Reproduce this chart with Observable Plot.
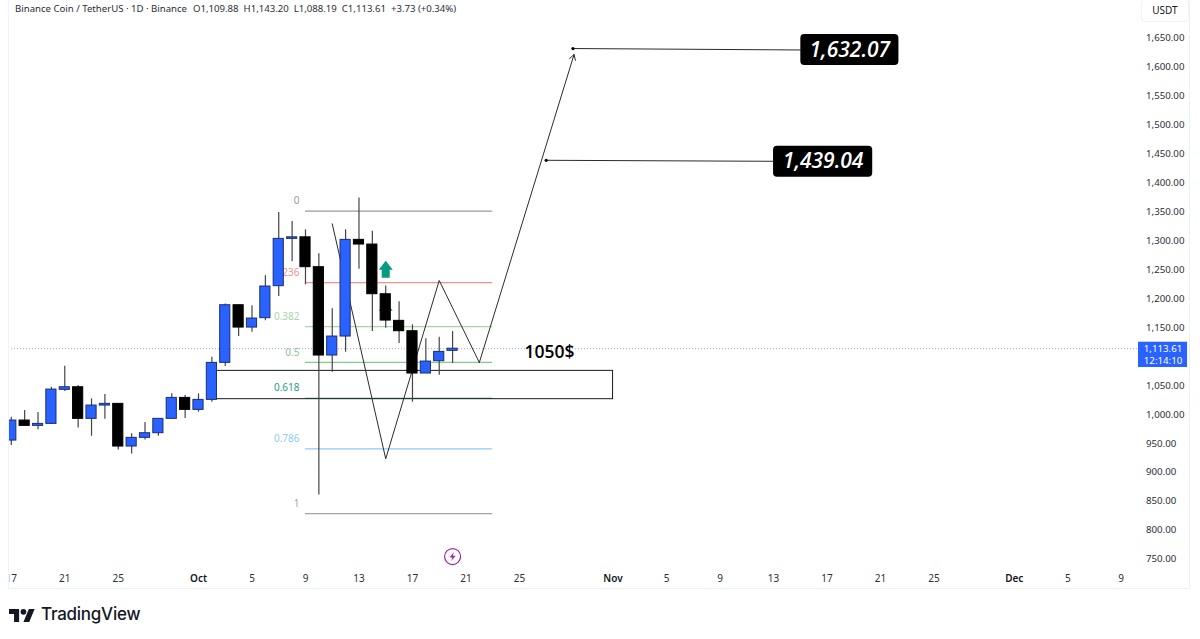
<!DOCTYPE html>
<html>
<head>
<meta charset="utf-8">
<script src="https://cdn.jsdelivr.net/npm/d3@7"></script>
<script src="https://cdn.jsdelivr.net/npm/@observablehq/plot@0.6"></script>
<style>
html,body{margin:0;padding:0;background:#fff;overflow:hidden;width:1200px;height:639px;position:relative;font-family:"Noto Sans",sans-serif;}
#chart svg{display:block;overflow:visible;background:#fff;}
#header{position:absolute;left:15px;top:2px;font:9.6px/14px "Noto Sans",sans-serif;color:#2a2e39;white-space:pre;}
#header b{font-weight:400;margin-left:1px;}
#usdt{position:absolute;left:1141px;top:-1px;width:46px;height:21px;border:1px solid #f0f3fa;border-radius:4px;font:10px/21px "Noto Sans",sans-serif;color:#131722;text-align:center;background:#fff;}
#edge{position:absolute;left:0;top:0;width:8px;height:589px;background:#fff;border-right:1px solid #f0f3fa;}
#frame{position:absolute;left:8px;top:0;width:1182px;height:589px;box-sizing:border-box;border-right:1px solid #eef0f5;border-bottom:1px solid #eef0f5;pointer-events:none;}
#logo{position:absolute;left:9px;top:603px;display:flex;align-items:center;color:#131722;}
#logo span{font:500 17px/22px Inter,sans-serif;margin-left:6px;letter-spacing:-.25px;}
</style>
</head>
<body>
<div id="chart"></div>
<div id="edge"></div>
<div id="frame"></div>
<div id="header">Binance Coin / TetherUS · 1D · Binance<b>  O1,109.88  H1,143.20  L1,088.19  C1,113.61  +3.73 (+0.34%)</b></div>
<div id="usdt">USDT</div>
<div id="logo">
<svg width="26" height="16" viewBox="0 0 36 22"><path fill="#131722" d="M14 22H7V11H0V4h14v18zM28 22h-8l7.5-18h8L28 22z"/><circle fill="#131722" cx="20" cy="8" r="4"/></svg>
<span>TradingView</span>
</div>
<script>
const dates = ["2025-09-17","2025-09-18","2025-09-19","2025-09-20","2025-09-21","2025-09-22","2025-09-23","2025-09-24","2025-09-25","2025-09-26","2025-09-27","2025-09-28","2025-09-29","2025-09-30","2025-10-01","2025-10-02","2025-10-03","2025-10-04","2025-10-05","2025-10-06","2025-10-07","2025-10-08","2025-10-09","2025-10-10","2025-10-11","2025-10-12","2025-10-13","2025-10-14","2025-10-15","2025-10-16","2025-10-17","2025-10-18","2025-10-19","2025-10-20"];
const opens  = [954.9,989.5,980.3,983.7,1042.5,1047,992.4,1015.4,1018.3,944.6,959.6,967.6,992.4,1028.6,1007.9,1025.2,1089.1,1188.7,1150.1,1166.3,1221.6,1303.3,1306,1254.4,1101.8,1134.6,1301.6,1293.5,1207.7,1161.7,1143.8,1070.7,1092,1109.88];
const closes = [989.5,980.3,983.7,1043,1047,992.4,1015.4,1018.3,944.6,959.6,967.6,992.4,1028.6,1007.9,1025.2,1089.1,1188.7,1150.1,1165.7,1221,1303.3,1306,1254.4,1101.8,1134.6,1301.6,1293.5,1207.7,1162.2,1143.8,1070.7,1091.4,1108.1,1113.61];
const highs  = [995.3,1006.8,1003.3,1047,1083.4,1050,1026.9,1034.4,1018.3,966.5,986,992.4,1035.6,1032.7,1035.6,1098.9,1191,1188.7,1187.6,1239.4,1348.8,1333.3,1318.9,1277.4,1182.4,1318.9,1374,1316.6,1222.1,1194.5,1154.8,1130.6,1133.4,1143.2];
const lows   = [946.3,980,973.4,983,1039.6,976.8,962.4,991.8,938.8,931.9,956.1,962.4,992,992.9,1003.9,1021.2,1082.8,1134.6,1142.1,1161.7,1203.7,1263.6,1223.8,861.1,1073,1107.5,1250.9,1143.2,1149,1122.5,1021.2,1070.7,1067.8,1088.19];

const fibLabels = ["0","0.236","0.382","0.5","0.618","0.786","1"];
const fibPrices = [1351.1,1227.9,1151.6,1090,1028,940.7,828.8];
const fibColors = ["#9a9a9a","#f0918c","#a5d6a7","#86c98a","#1f9e88","#90caf9","#a3a3a3"];
const fibStart = "2025-10-09", fibEnd = "2025-10-23";

const pathDates  = ["2025-10-11","2025-10-15","2025-10-19","2025-10-22"];
const pathPrices = [1329.3,923.4,1231.4,1089.7];
const arrowTipDate = "2025-10-29T02:00Z", arrowTipPrice = 1621.8;

const targetLabels = ["1,632.07","1,439.04"];
const targetPrices = [1632.07,1439.04];
const targetDates  = ["2025-10-29","2025-10-27"];
const tagLeft   = ["2025-11-15T01:00Z","2025-11-13T00:00Z"];
const tagRight  = ["2025-11-22T09:00Z","2025-11-20T10:00Z"];
const tagMiddle = ["2025-11-18T17:00Z","2025-11-16T17:00Z"];
const tagTop    = [1656.3,1463.4];
const tagBottom = [1602.8,1409.8];
const tagLinePrices = [1629.6,1437.3];

const zoneStart = "2025-10-02", zoneEnd = "2025-11-01", zoneTop = 1075.3, zoneBottom = 1026.4;
const lastPrice = 1113.61;
const priceTicks = [750,800,850,900,950,1000,1050,1150,1200,1250,1300,1350,1400,1450,1500,1550,1600,1650];
const dayTicks = ["2025-09-17","2025-09-21","2025-09-25","2025-10-05","2025-10-09","2025-10-13","2025-10-17","2025-10-21","2025-10-25","2025-11-05","2025-11-09","2025-11-13","2025-11-17","2025-11-21","2025-11-25","2025-12-05","2025-12-09"];
const monthTicks = ["2025-10-01","2025-11-01","2025-12-01"];
const monthNames = ["Oct","Nov","Dec"];

const d = s => new Date(s);
const DAY = 864e5;
const BODY = 0.38;
const candles = dates.map((t,i)=>({t:d(t),o:opens[i],c:closes[i],h:highs[i],l:lows[i],up:closes[i]>=opens[i]}));
const fibs = fibLabels.map((l,i)=>({l,p:fibPrices[i],c:fibColors[i]}));
const path = pathDates.map((t,i)=>({t:d(t),p:pathPrices[i]}));
const tags = targetLabels.map((l,i)=>({l,p:targetPrices[i],t:d(targetDates[i]),x1:d(tagLeft[i]),x2:d(tagRight[i]),xm:d(tagMiddle[i]),y1:tagTop[i],y2:tagBottom[i],yl:tagLinePrices[i]}));

const upArrow = {draw(c,size){const s=Math.sqrt(size/Math.PI)/8.5;
  c.moveTo(0,-8.5*s);c.lineTo(7*s,0.5*s);c.lineTo(4*s,0.5*s);c.lineTo(4*s,8.5*s);c.lineTo(-4*s,8.5*s);c.lineTo(-4*s,0.5*s);c.lineTo(-7*s,0.5*s);c.closePath();}};
const bolt = {draw(c,size){const s=Math.sqrt(size/Math.PI)/4;
  c.moveTo(1.2*s,-4*s);c.lineTo(-2.8*s,0.8*s);c.lineTo(-0.2*s,0.8*s);c.lineTo(-1.2*s,4*s);c.lineTo(2.8*s,-0.8*s);c.lineTo(0.2*s,-0.8*s);c.closePath();}};

const font = '"Noto Sans",sans-serif';
const chart = Plot.plot({
  width:1200,height:589,marginLeft:8,marginRight:62,marginTop:0,marginBottom:20,
  style:{background:"#fff",fontFamily:font,overflow:"visible"},
  x:{type:"utc",domain:[d("2025-09-16T19:00Z"),d("2025-12-10T07:00Z")]},
  y:{domain:[732.2,1715.05]},
  marks:[
    Plot.axisY({anchor:"right",ticks:priceTicks,tickSize:0,tickPadding:7.5,label:null,fontSize:9.7,color:"#2a2e39",
      tickFormat:v=>d3.format(",.2f")(v)}),
    Plot.axisX({anchor:"bottom",ticks:dayTicks.map(d),tickSize:0,tickPadding:5,label:null,fontSize:10,color:"#2a2e39",
      tickFormat:v=>String(v.getUTCDate())}),
    Plot.axisX({anchor:"bottom",ticks:monthTicks.map(d),tickSize:0,tickPadding:5,label:null,fontSize:10,fontWeight:600,color:"#131722",
      tickFormat:v=>monthNames[monthTicks.findIndex(m=>+d(m)===+v)]}),
    Plot.ruleY([lastPrice],{stroke:"#7d80d8",strokeOpacity:.7,strokeDasharray:"1 2",strokeWidth:1}),
    Plot.ruleY(fibs,{y:"p",x1:d(fibStart),x2:d(fibEnd),stroke:"c",strokeWidth:1.2}),
    Plot.text(fibs,{x:d(fibStart),y:"p",text:"l",fill:"c",fontSize:10,textAnchor:"end",dx:-6,dy:-10,fontWeight:d=>d.l==="0.618"?600:400}),
    Plot.rect([0],{x1:d(zoneStart),x2:d(zoneEnd),y1:zoneBottom,y2:zoneTop,fill:"none",stroke:"#1a1a1a",strokeWidth:1}),
    Plot.line(path,{x:"t",y:"p",stroke:"#2b2b2b",strokeWidth:1}),
    Plot.arrow([0],{x1:d(pathDates[3]),y1:pathPrices[3],x2:d(arrowTipDate),y2:arrowTipPrice,stroke:"#2b2b2b",strokeWidth:1,headLength:9,bend:0,inset:0}),
    Plot.dot([1250.9,1180],{x:d("2025-10-15"),y:p=>p,r:8.5,symbol:upArrow,fill:"#089981",stroke:"none"}),
    Plot.ruleX(candles,{x:"t",y1:"l",y2:"h",stroke:"#444",strokeWidth:1.2,clip:true}),
    Plot.rect(candles,{x1:c=>new Date(+c.t-BODY*DAY),x2:c=>new Date(+c.t+BODY*DAY),y1:"o",y2:"c",
      fill:c=>c.up?"#2962ff":"#000",stroke:c=>c.up?"#1b2f73":"#000",strokeWidth:1,clip:true}),
    Plot.link(tags,{x1:"t",y1:"p",x2:"x1",y2:"yl",stroke:"#2b2b2b",strokeWidth:1}),
    Plot.dot(tags,{x:"t",y:"p",r:1.6,fill:"#000"}),
    Plot.rect(tags,{x1:"x1",x2:"x2",y1:"y2",y2:"y1",fill:"#000",r:4}),
    Plot.text(tags,{x:"xm",y:d=>(d.y1+d.y2)/2,text:"l",fill:"#fff",fontSize:21,fontStyle:"italic",fontWeight:600,fontFamily:'"Open Sans",sans-serif',letterSpacing:"1.2px"}),
    Plot.text(["1050$"],{x:d("2025-10-27T06:00Z"),y:1107,text:t=>t,fill:"#000",fontSize:17.5,fontWeight:600,fontFamily:'"Open Sans",sans-serif'}),
    Plot.dot([754.6],{x:d("2025-10-20"),y:p=>p,r:8,fill:"#fff",stroke:"#9c27b0",strokeWidth:1.2}),
    Plot.dot([754.6],{x:d("2025-10-20"),y:p=>p,r:4.5,symbol:bolt,fill:"#9c27b0",stroke:"none"}),
    Plot.rect([0],{x1:d("2025-12-10T07:00Z"),x2:d("2025-12-13T23:00Z"),y1:1081.1,y2:1124.8,fill:"#2962ff"}),
    Plot.text(["1,113.61"],{x:d("2025-12-12T03:00Z"),y:1113,text:t=>t,fill:"#fff",fontSize:9.7}),
    Plot.text(["12:14:10"],{x:d("2025-12-12T03:00Z"),y:1093,text:t=>t,fill:"#fff",fontSize:9.7})
  ]
});
document.getElementById("chart").append(chart);
</script>
</body>
</html>
